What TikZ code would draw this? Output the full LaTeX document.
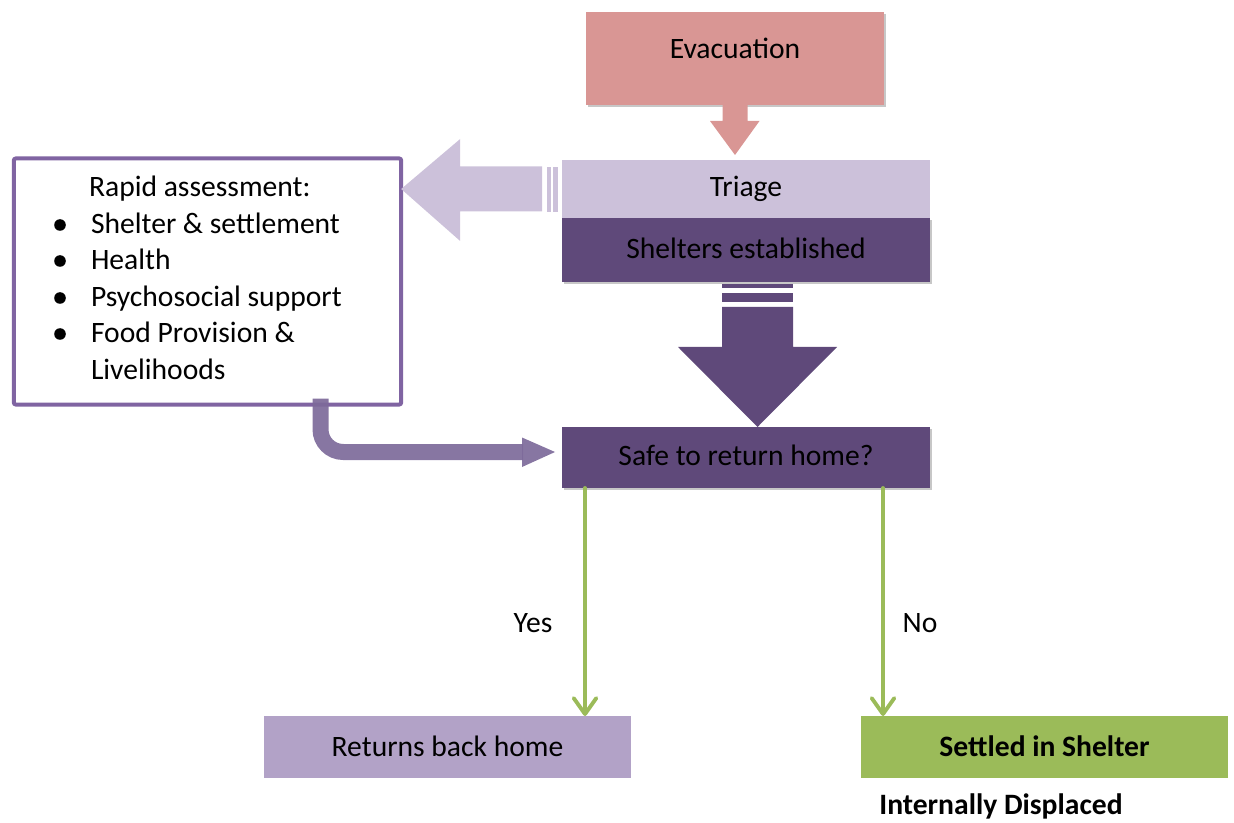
\documentclass[tikz,border=0pt]{standalone}
\usepackage{fontspec}
\setmainfont{Carlito}
\usetikzlibrary{arrows.meta,shadows,calc}
\definecolor{evacc}{HTML}{D99694}
\definecolor{triagec}{HTML}{CCC1DA}
\definecolor{darkp}{HTML}{5F497A}
\definecolor{rapidc}{HTML}{8064A2}
\definecolor{returnc}{HTML}{B2A2C7}
\definecolor{greenc}{HTML}{9BBB59}
\definecolor{bentc}{HTML}{7D6A9A}
\begin{document}
\begin{tikzpicture}[x=0.75pt,y=-0.75pt,
  every node/.style={font=\fontsize{22.2}{27}\selectfont, inner sep=0pt, outer sep=0pt},
  box/.style={rectangle, draw=none},
  shad/.style={drop shadow={shadow xshift=1.8pt, shadow yshift=-1.8pt, opacity=0.22, fill=black}},
  garrow/.style={draw=greenc, line width=2.9pt, line cap=round,
     -{Straight Barb[length=12pt, width=17pt, line cap=round, line join=round]}},
  lbl/.style={text=black}]
\useasboundingbox (0,0) rectangle (1234,823);

% boxes
\node[box, fill=evacc, shad, minimum width=223.5pt, minimum height=69.75pt] (evac) at (735,58.5) {};
\node[lbl] (evact) at (735,48) {Evacuation};

\node[box, fill=darkp, shad, minimum width=276pt, minimum height=48pt] (shel) at (746,250) {};
\node[box, fill=triagec, minimum width=276pt, minimum height=43.5pt] (triage) at (746,189) {};
\node[lbl] (triaget) at (746,189) {Triage};
\node[lbl] (shelt) at (746,248) {Shelters established};

\node[box, fill=darkp, shad, minimum width=276pt, minimum height=45.75pt] (safe) at (746,457.5) {};
\node[lbl] (safet) at (746,455) {Safe to return home?};

\node[box, fill=returnc, minimum width=275.25pt, minimum height=46.5pt] (ret) at (447.5,747) {};
\node[lbl] (rett) at (447.5,746) {Returns back home};

\node[box, fill=greenc, minimum width=275.25pt, minimum height=46.5pt] (set) at (1044.5,747) {};
\node[lbl, font=\fontsize{22.2}{27}\selectfont\bfseries] (sett) at (1044.5,746) {Settled in Shelter};

\node[lbl, font=\fontsize{22.2}{27}\selectfont\bfseries] (idp) at (1001,806) {Internally Displaced};

% rapid assessment box
\node[box, draw=rapidc, line width=3pt, fill=white, rounded corners=1.5pt,
      minimum width=290.5pt, minimum height=184.5pt] (rapid) at (207.5,281.5) {};
\node[lbl, anchor=base west] (r0) at (89,197) {Rapid assessment:};
\node[lbl, anchor=base west] (r1) at (91,234) {Shelter \& settlement};
\node[lbl, anchor=base west] (r2) at (91,270) {Health};
\node[lbl, anchor=base west] (r3) at (91,307) {Psychosocial support};
\node[lbl, anchor=base west] (r4) at (91,343) {Food Provision \&};
\node[lbl, anchor=base west] (r5) at (91,379) {Livelihoods};
\foreach \n in {r1,r2,r3,r4}{\fill[black] ($(\n.base west)+(-31,-9)$) circle (5.8);}

% pink block arrow evac -> triage
\fill[evacc] ($(evac.south)+(-12.5,0)$) -- ++(25,0) -- ++(0,16) -- ++(12,0)
   -- ($(triage.north)+(-11,-5)$) -- ($(evac.south)+(-25,16)$) -- ++(12.5,0) -- cycle;

% light block arrow triage -> rapid
\fill[triagec] (rapid.east |- triage.west) -- ++(59,-50) -- ++(0,27.5) -- ++(82,0) -- ++(0,45)
   -- ++(-82,0) -- ++(0,29.5) -- cycle;
\fill[triagec] ($(triage.west)+(-15,-22)$) rectangle ++(3.5,45);
\fill[triagec] ($(triage.west)+(-9,-22)$) rectangle ++(5,45);

% dark block arrow shelters -> safe
\fill[darkp] ($(shel.south)+(-24,2)$) rectangle ++(71,4.5);
\fill[darkp] ($(shel.south)+(-24,11)$) rectangle ++(71,9);
\fill[darkp] ($(shel.south)+(-24,25)$) -- ++(71,0) -- ++(0,40) -- ++(44,0)
   -- ($(safe.north)+(11.5,0)$) -- ($(shel.south)+(-68,65)$) -- ++(44,0) -- cycle;

% bent arrow rapid -> safe
\draw[bentc, opacity=0.92, line width=12pt, rounded corners=17pt]
   ($(rapid.south)+(113,-6)$) |- ($(safe.west)+(-39,-5.5)$);
\fill[bentc, opacity=0.92] ($(safe.west)+(-40,-20)$) -- ($(safe.west)+(-7,-5.5)$) -- ($(safe.west)+(-40,9.5)$) -- cycle;

% green arrows
\coordinate (ga) at ($(safe.south west)+(23,0)$);
\coordinate (gb) at ($(safe.south east)+(-47,0)$);
\draw[garrow] (ga) -- (ga |- ret.north);
\draw[garrow] (gb) -- (gb |- set.north);
\node[lbl] (yes) at (533,623) {Yes};
\node[lbl] (no) at (920,623) {No};
\end{tikzpicture}
\end{document}
